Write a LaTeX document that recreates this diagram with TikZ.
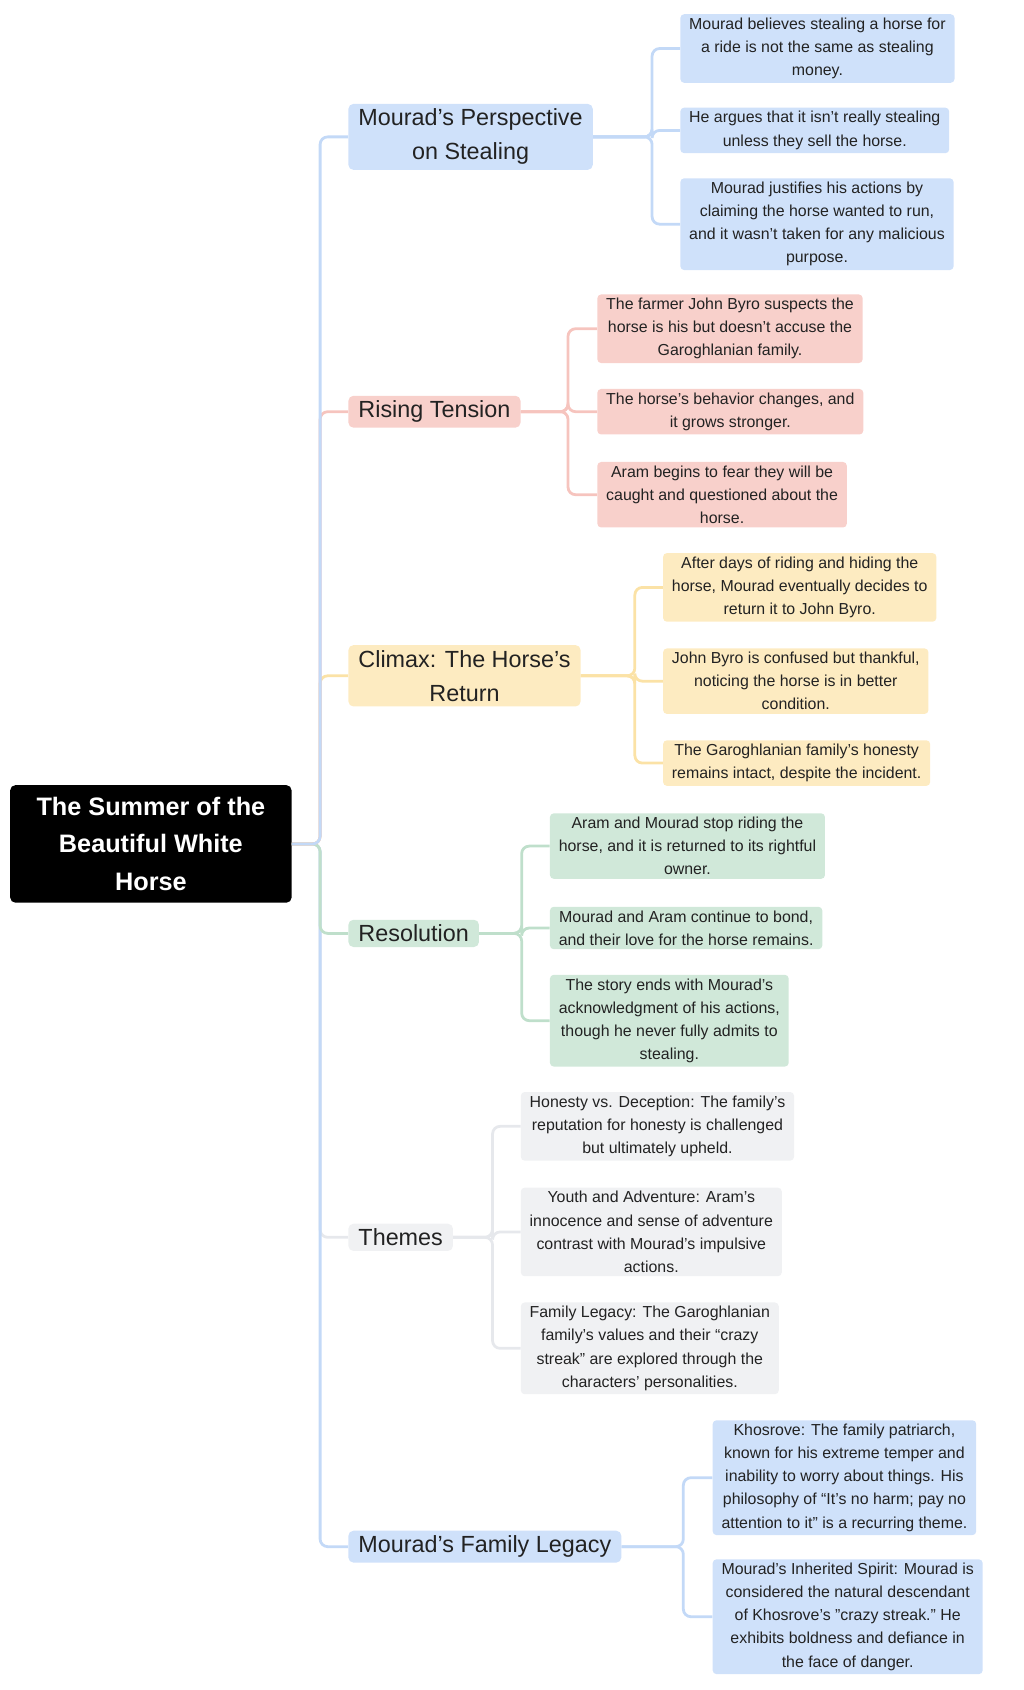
\documentclass[tikz,border=0pt]{standalone}
\usepackage{fontspec}
\setmainfont{Liberation Sans}
\usetikzlibrary{positioning}
\definecolor{bluefill}{HTML}{CFE1FA}
\definecolor{blueline}{HTML}{C3D9F7}
\definecolor{pinkfill}{HTML}{F8D0CB}
\definecolor{pinkline}{HTML}{F6C4BE}
\definecolor{yellowfill}{HTML}{FDEBC1}
\definecolor{yellowline}{HTML}{FBE2A6}
\definecolor{greenfill}{HTML}{D0E8D9}
\definecolor{greenline}{HTML}{BFDFCB}
\definecolor{grayfill}{HTML}{F0F1F3}
\definecolor{grayline}{HTML}{E6E8EC}
\definecolor{inktext}{HTML}{222222}
\tikzset{
  rootnode/.style={fill=black,text=white,rounded corners=4pt,align=center,
    font=\bfseries\fontsize{20}{30}\selectfont,minimum width=7.83cm,minimum height=3.27cm},
  mainnode/.style={rounded corners=4pt,align=center,anchor=west,text=inktext,
    font=\fontsize{18.5}{27}\selectfont,inner xsep=8pt,inner ysep=4pt},
  leafnode/.style={rounded corners=3pt,align=center,anchor=west,text=inktext,
    font=\fontsize{12.6}{18.3}\selectfont,inner xsep=7pt,inner ysep=3pt},
  link/.style={line width=2.2pt,rounded corners=6pt}
}
\begin{document}
\begin{tikzpicture}[x=0.03cm,y=-0.03cm]
\useasboundingbox (0,0) rectangle (950,1568);

% root
\node[rootnode] (root) at (140,783) {The Summer of the\\Beautiful White\\Horse};

% main branches
\node[mainnode,fill=bluefill] (persp) at (323,127) {Mourad’s Perspective\\on Stealing};
\node[mainnode,fill=pinkfill] (rising) at (323,382) {Rising Tension};
\node[mainnode,fill=yellowfill] (climax) at (323,627) {Climax: The Horse’s\\Return};
\node[mainnode,fill=greenfill] (resol) at (323,866) {Resolution};
\node[mainnode,fill=grayfill] (themes) at (323,1148) {Themes};
\node[mainnode,fill=bluefill] (legacy) at (323,1435) {Mourad's Family Legacy};

% leaves
\node[leafnode,fill=bluefill] (persp1) at (631,45) {Mourad believes stealing a horse for\\a ride is not the same as stealing\\money.};
\node[leafnode,fill=bluefill] (persp2) at (631,121) {He argues that it isn’t really stealing\\unless they sell the horse.};
\node[leafnode,fill=bluefill] (persp3) at (631,208) {Mourad justifies his actions by\\claiming the horse wanted to run,\\and it wasn’t taken for any malicious\\purpose.};

\node[leafnode,fill=pinkfill] (rising1) at (554,305) {The farmer John Byro suspects the\\horse is his but doesn’t accuse the\\Garoghlanian family.};
\node[leafnode,fill=pinkfill] (rising2) at (554,382) {The horse’s behavior changes, and\\it grows stronger.};
\node[leafnode,fill=pinkfill] (rising3) at (554,459) {Aram begins to fear they will be\\caught and questioned about the\\horse.};

\node[leafnode,fill=yellowfill] (climax1) at (615,545) {After days of riding and hiding the\\horse, Mourad eventually decides to\\return it to John Byro.};
\node[leafnode,fill=yellowfill] (climax2) at (615,632) {John Byro is confused but thankful,\\noticing the horse is in better\\condition.};
\node[leafnode,fill=yellowfill] (climax3) at (615,708) {The Garoghlanian family's honesty\\remains intact, despite the incident.};

\node[leafnode,fill=greenfill] (resol1) at (510,785) {Aram and Mourad stop riding the\\horse, and it is returned to its rightful\\owner.};
\node[leafnode,fill=greenfill] (resol2) at (510,861) {Mourad and Aram continue to bond,\\and their love for the horse remains.};
\node[leafnode,fill=greenfill] (resol3) at (510,947) {The story ends with Mourad’s\\acknowledgment of his actions,\\though he never fully admits to\\stealing.};

\node[leafnode,fill=grayfill] (themes1) at (483,1045) {Honesty vs. Deception: The family’s\\reputation for honesty is challenged\\but ultimately upheld.};
\node[leafnode,fill=grayfill] (themes2) at (483,1143) {Youth and Adventure: Aram’s\\innocence and sense of adventure\\contrast with Mourad's impulsive\\actions.};
\node[leafnode,fill=grayfill] (themes3) at (483,1251) {Family Legacy: The Garoghlanian\\family's values and their “crazy\\streak” are explored through the\\characters’ personalities.};

\node[leafnode,fill=bluefill] (legacy1) at (661,1371) {Khosrove: The family patriarch,\\known for his extreme temper and\\inability to worry about things. His\\philosophy of “It’s no harm; pay no\\attention to it” is a recurring theme.};
\node[leafnode,fill=bluefill] (legacy2) at (661,1500) {Mourad’s Inherited Spirit: Mourad is\\considered the natural descendant\\of Khosrove's "crazy streak." He\\exhibits boldness and defiance in\\the face of danger.};

% root to branches
\begin{scope}[on background layer/.style={}]
\foreach \m/\c in {themes/grayline,legacy/blueline,resol/greenline,climax/yellowline,rising/pinkline,persp/blueline}
  \draw[link,\c] (root.east) -- (297,783) |- (\m.west);
\end{scope}

% branches to leaves
\foreach \m/\bx/\c in {persp/605/blueline,rising/527/pinkline,climax/589/yellowline,resol/484/greenline,themes/457/grayline,legacy/634/blueline}
  \foreach \i in {1,2,3}
    \ifnum\i<4
      \pgfextra{}
    \fi;
\foreach \m/\bx/\c/\n in {persp/605/blueline/3,rising/527/pinkline/3,climax/589/yellowline/3,resol/484/greenline/3,themes/457/grayline/3,legacy/634/blueline/2}
  \foreach \i in {1,...,\n}
    \draw[link,\c] (\m.east) -- (\bx,0 |- \m.east) |- (\m\i.west);
\end{tikzpicture}
\end{document}
